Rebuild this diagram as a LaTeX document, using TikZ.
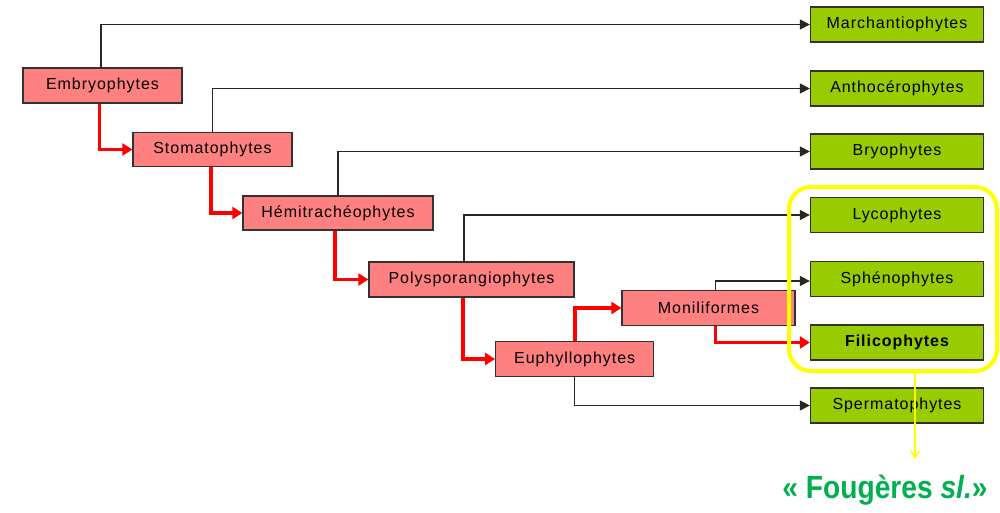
\documentclass[tikz,border=0pt]{standalone}
\usepackage{fontspec}
\setmainfont{Liberation Sans}
\newfontfamily\boxfont[LetterSpace=6]{Liberation Sans}
\usetikzlibrary{arrows.meta}
\definecolor{redbox}{RGB}{255,128,128}
\definecolor{greenbox}{RGB}{153,204,0}
\definecolor{bordergray}{RGB}{50,50,50}
\definecolor{fgreen}{RGB}{0,176,80}
\definecolor{yel}{RGB}{255,255,0}
\tikzset{
  redn/.style={draw=bordergray, line width=1.3pt, fill=redbox, minimum height=35pt, inner sep=0pt, font=\boxfont\fontsize{16}{18}\selectfont},
  greenn/.style={draw=bordergray, line width=1.3pt, fill=greenbox, minimum width=173pt, minimum height=35pt, inner sep=0pt, font=\boxfont\fontsize{16}{18}\selectfont},
  blk/.style={draw=black!85, line width=1.3pt, -{Triangle[length=10pt,width=10pt]}},
  redl/.style={draw=red, line width=3.8pt, -{Triangle[length=10pt,width=12pt]}},
}
\begin{document}
\begin{tikzpicture}[x=1pt,y=-1pt]
\useasboundingbox (0,0) rectangle (1000,513);
\fill[white] (0,0) rectangle (1000,513);
% red nodes
\node[redn, minimum width=159pt] (emb) at (102.5,85.5) {Embryophytes};
\node[redn, minimum width=159pt, minimum height=34pt] (sto) at (212.5,149.5) {Stomatophytes};
\node[redn, minimum width=190pt, minimum height=34pt] (hem) at (338,213) {Hémitrachéophytes};
\node[redn, minimum width=205pt] (pol) at (471.5,279.5) {Polysporangiophytes};
\node[redn, minimum width=158pt] (eup) at (574.7,359) {Euphyllophytes};
\node[redn, minimum width=173pt] (mon) at (708.5,308) {Moniliformes};
% green nodes
\node[greenn] (mar) at (897,24.5) {Marchantiophytes};
\node[greenn] (ant) at (897,88.5) {Anthocérophytes};
\node[greenn] (bry) at (897,151.5) {Bryophytes};
\node[greenn] (lyc) at (897,215) {Lycophytes};
\node[greenn] (sph) at (897,279) {Sphénophytes};
\node[greenn, font=\boxfont\fontsize{16}{18}\selectfont\bfseries] (fil) at (897,342.5) {Filicophytes};
\node[greenn] (spe) at (897,405.5) {Spermatophytes};
% black connectors
\draw[blk] ([xshift=-1.5pt]emb.north) |- (mar.west);
\draw[blk] (sto.north) |- (ant.west);
\draw[blk] (hem.north) |- (bry.west);
\draw[blk] ([xshift=-7.5pt]pol.north) |- (lyc.west);
\draw[blk] ([xshift=7pt]mon.north) |- ([yshift=-2pt]sph.west);
\draw[blk] (eup.south) |- (spe.west);
% red connectors
\draw[redl] ([xshift=-3pt]emb.south) |- (sto.west);
\draw[redl] ([xshift=-1.5pt]sto.south) |- (hem.west);
\draw[redl] ([xshift=-3pt]hem.south) |- (pol.west);
\draw[redl] ([xshift=-8.5pt]pol.south) |- (eup.west);
\draw[redl] (eup.north) |- (mon.west);
\draw[redl] ([xshift=7pt]mon.south) |- (fil.west);
% yellow group
\node[draw=yel, line width=4pt, rounded corners=22pt, minimum width=208pt, minimum height=184pt] (grp) at (893,279) {};
\coordinate (fgtop) at (915,459);
\node[text=fgreen, font=\fontsize{32}{34}\selectfont\bfseries, xscale=0.88, anchor=base] (fg) at (885,498) {« Fougères \textit{sl.}»};
\draw[draw=yel, line width=1.5pt, -{Straight Barb[length=7pt,width=9pt]}] (grp.south -| fgtop) -- (fgtop);
\end{tikzpicture}
\end{document}
